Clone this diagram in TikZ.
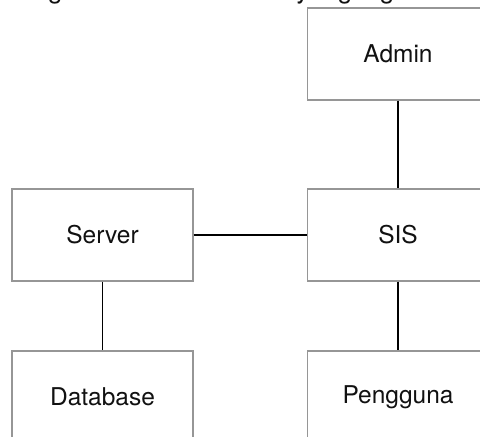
\documentclass[tikz,border=0pt]{standalone}
\usepackage{fontspec}
\setmainfont{TeX Gyre Heros}
\definecolor{boxgray}{RGB}{150,150,150}
\definecolor{txt}{RGB}{17,17,17}
\tikzset{
  box/.style={draw=boxgray, line width=1.1pt, rectangle, minimum width=181pt, minimum height=92pt, inner sep=0pt, text=txt, font=\fontsize{24.5}{29}\selectfont},
  link/.style={draw=black, line width=1.3pt},
}
\begin{document}
\begin{tikzpicture}[x=1pt, y=1pt]
\useasboundingbox (0,0) rectangle (480,437);
\begin{scope}
\clip (0,0) rectangle (480,437);
\fill[white] (0,0) rectangle (480,437);
\node[anchor=base west, inner sep=0pt, text=txt, font=\fontsize{26}{30}\selectfont] (title) at (9,438) {Diagram konteks Sistem yang digunakan};
\node[box] (admin) at (398,383) {Admin};
\node[box] (sis) at (398,202) {SIS};
\node[box] (server) at (102.5,202) {Server};
\node[box] (db) at (102.5,40) {Database};
\node[box] (user) at (398,40) {Pengguna};
\draw[link] (admin.south) -- (sis.north);
\draw[link] (server.east) -- (sis.west);
\draw[link] (server.south) -- (db.north);
\draw[link] (sis.south) -- (user.north);
\end{scope}
\end{tikzpicture}
\end{document}
